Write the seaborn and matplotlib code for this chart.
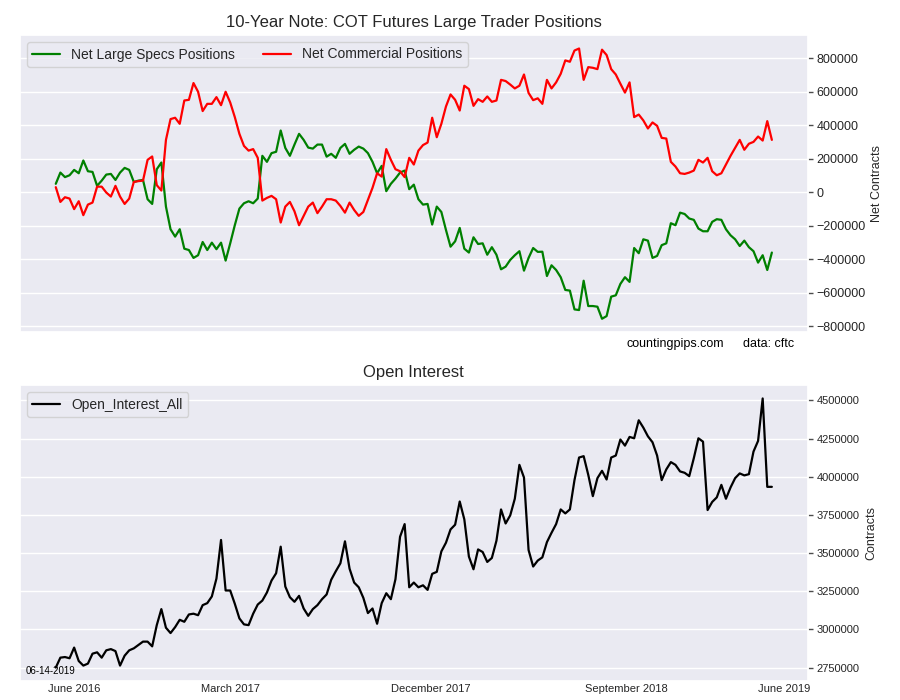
import numpy as np
import pandas as pd
import matplotlib
matplotlib.use("Agg")
import matplotlib.pyplot as plt
from matplotlib.ticker import MultipleLocator, FuncFormatter
import seaborn as sns

# ---------------- data (thousands of contracts) ----------------
specs_k = [50, 117, 90, 101, 133, 113, 189, 125, 121, 38, 69, 105, 109, 73, 117, 145, 133, 61, 69, 73,
           -42, -70, 137, 177, -86, -221, -265, -221, -337, -345, -392, -376, -297, -345, -301, -340, -301,
           -408, -305, -197, -98, -66, -54, -66, -38, 217, 181, 233, 241, 368, 264, 217, 284, 348,
           312, 266, 260, 284, 284, 212, 229, 205, 264, 288, 229, 253, 272, 260, 233, 181, 113, 157, 6,
           50, 81, 117, 129, 18, 45, -42, -74, -70, -193, -86, -118, -225, -325, -293, -213, -337, -360,
           -269, -309, -305, -373, -328, -373, -460, -444, -404, -376, -352, -468, -392, -333, -356,
           -355, -500, -436, -464, -507, -583, -587, -699, -703, -528, -679, -679, -683, -755, -739, -623,
           -615, -547, -507, -535, -333, -364, -281, -289, -392, -380, -316, -305, -185, -197, -122, -130,
           -157, -165, -217, -233, -233, -177, -161, -165, -221, -257, -281, -321, -289, -328, -352, -420,
           -376, -464, -360]

commercial_k = [30, -58, -30, -38, -101, -54, -137, -74, -62, 33, 33, -2, -26, 38, -26, -70, -38, 61, 66, 69,
                193, 213, 42, 10, 312, 436, 444, 408, 547, 551, 651, 599, 484, 527, 527, 567, 519, 599, 535,
                448, 348, 276, 248, 257, 205, -50, -34, -22, -42, -181, -86, -58, -114, -197, -141, -86, -62,
                -125, -86, -42, -42, -50, -82, -122, -62, -106, -141, -118, -46, 26, 113, 93, 257, 193, 137,
                125, 90, 205, 165, 248, 281, 296, 444, 328, 408, 511, 583, 551, 487, 635, 615, 515, 555, 539,
                571, 539, 547, 670, 663, 642, 619, 635, 702, 592, 549, 560, 527, 670, 619, 655, 706, 786, 778,
                845, 857, 670, 746, 742, 734, 850, 818, 734, 702, 647, 594, 655, 448, 463, 428, 380, 416, 396,
                324, 320, 181, 153, 113, 109, 117, 129, 193, 177, 205, 125, 101, 113, 165, 217, 264, 312, 253,
                289, 300, 332, 308, 424, 312]

open_interest_k = [2750, 2815, 2819, 2811, 2881, 2793, 2763, 2776, 2841, 2850, 2815, 2863, 2871, 2858, 2763,
                   2828, 2863, 2876, 2898, 2920, 2920, 2889, 3028, 3133, 3011, 2976, 3015, 3063, 3050, 3098,
                   3103, 3093, 3159, 3172, 3216, 3333, 3586, 3255, 3255, 3168, 3072, 3033, 3028, 3103, 3163,
                   3189, 3242, 3320, 3368, 3542, 3281, 3211, 3181, 3220, 3137, 3089, 3133, 3159, 3198, 3229,
                   3325, 3381, 3433, 3577, 3398, 3307, 3276, 3207, 3107, 3137, 3037, 3172, 3237, 3198, 3329,
                   3607, 3690, 3276, 3307, 3276, 3289, 3259, 3364, 3377, 3511, 3568, 3655, 3686, 3838, 3721,
                   3477, 3394, 3524, 3507, 3442, 3468, 3581, 3786, 3694, 3747, 3856, 4078, 3995, 3520, 3412,
                   3451, 3472, 3572, 3633, 3690, 3786, 3760, 3786, 3978, 4126, 4135, 4013, 3873, 3991, 4039,
                   3982, 4126, 4139, 4244, 4204, 4261, 4252, 4370, 4322, 4265, 4226, 4139, 3978, 4048, 4096,
                   4078, 4035, 4026, 4004, 4122, 4252, 4230, 3782, 3835, 3865, 3947, 3856, 3930, 3991, 4022,
                   4009, 4017, 4165, 4235, 4513, 3934, 3934]

tick_labels = ["June 2016", "March 2017", "December 2017", "September 2018", "June 2019"]
report_date = "06-14-2019"

# ---------------- frame ----------------
n = len(specs_k)
df = pd.DataFrame({
    "week": np.arange(n),
    "Net Large Specs Positions": np.array(specs_k) * 1000,
    "Net Commercial Positions": np.array(commercial_k) * 1000,
    "Open_Interest_All": np.array(open_interest_k) * 1000,
})

sns.set_theme(style="darkgrid")
plt.rcParams["font.family"] = ["Liberation Sans", "DejaVu Sans"]
plt.rcParams["axes.unicode_minus"] = True

fig = plt.figure(figsize=(9, 7), dpi=100)
ax1 = fig.add_axes([0.0222, 0.5253, 0.8752, 0.4247])
ax2 = fig.add_axes([0.0222, 0.0271, 0.8752, 0.4229])

sns.lineplot(data=df, x="week", y="Net Large Specs Positions", ax=ax1, color="green",
             linewidth=1.6, label="Net Large Specs Positions")
sns.lineplot(data=df, x="week", y="Net Commercial Positions", ax=ax1, color="red",
             linewidth=1.6, label="Net Commercial Positions")
sns.lineplot(data=df, x="week", y="Open_Interest_All", ax=ax2, color="black",
             linewidth=1.6, label="Open_Interest_All")

plain = FuncFormatter(lambda v, p: f"{int(round(v))}".replace("-", "\u2212"))

for ax in (ax1, ax2):
    ax.yaxis.tick_right()
    ax.yaxis.set_label_position("right")
    ax.grid(axis="x", visible=False)
    ax.tick_params(axis="y", which="major", right=True, length=3.5, width=1, color=".3",
                   labelcolor=".15", pad=3)
    ax.yaxis.set_major_formatter(plain)
    ax.set_xlabel("")
    ax.margins(x=0.05, y=0.05)

ax1.yaxis.set_major_locator(MultipleLocator(200000))
ax1.tick_params(axis="y", labelsize=9)
ax1.set_xticks([])
ax1.set_ylabel("Net Contracts", fontsize=9, labelpad=4)
ax1.set_title("10-Year Note: COT Futures Large Trader Positions", fontsize=12, pad=6)
ax1.legend(loc="upper left", ncol=2, fontsize=10)

ax2.yaxis.set_major_locator(MultipleLocator(250000))
ax2.tick_params(axis="y", labelsize=8)
ax2.set_xticks([4.1, 38.0, 81.6, 124.4, 158.7])
ax2.set_xticklabels(tick_labels)
ax2.tick_params(axis="x", labelsize=8, labelcolor=".15", pad=2, length=0)
ax2.set_ylabel("Contracts", fontsize=9, labelpad=4)
ax2.set_title("Open Interest", fontsize=12, pad=6)
ax2.legend(loc="upper left", fontsize=10)
ax2.text(0.007, 0.035, report_date, transform=ax2.transAxes, fontsize=7, color="black",
         ha="left", va="center")

fig.text(0.696, 0.509, "countingpips.com", fontsize=9, ha="left", va="center", color="black")
fig.text(0.826, 0.509, "data: cftc", fontsize=9, ha="left", va="center", color="black")

fig.savefig("out.png", dpi=100)
